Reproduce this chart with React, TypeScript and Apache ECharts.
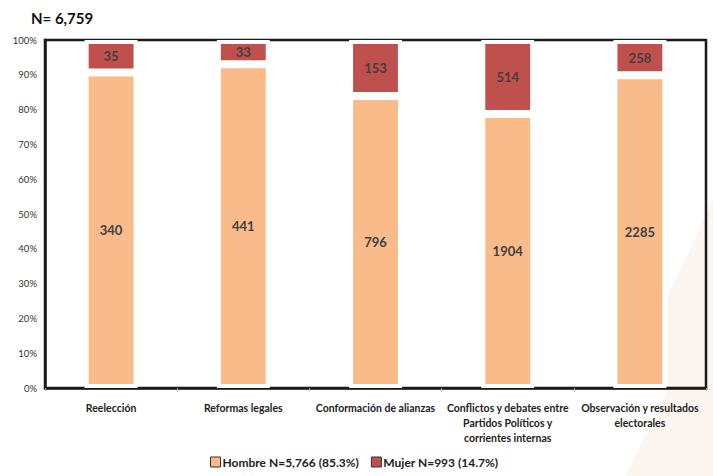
import React, { useEffect, useRef } from "react";
import * as echarts from "echarts";

const categories = [
  "Reelección",
  "Reformas legales",
  "Conformación de alianzas",
  "Conflictos y debates entre\nPartidos Políticos y\ncorrientes internas",
  "Observación y resultados\nelectorales",
];
const hombre = [340, 441, 796, 1904, 2285];
const mujer = [35, 33, 153, 514, 258];
const seriesNames = ["Hombre N=5,766 (85.3%)", "Mujer N=993 (14.7%)"];
const titleText = "N= 6,759";

const FONT = "Lato, 'Open Sans', sans-serif";

export default function App() {
  const ref = useRef<HTMLDivElement>(null);
  useEffect(() => {
    if (!ref.current) return;
    const chart = echarts.init(ref.current, null, { renderer: "svg" });
    const totals = hombre.map((h, i) => h + mujer[i]);
    const hPct = hombre.map((h, i) => (h / totals[i]) * 100);
    const mPct = mujer.map((m, i) => (m / totals[i]) * 100);
    const labelStyle = {
      show: true,
      position: "inside" as const,
      color: "#404040",
      fontFamily: FONT,
      fontWeight: "bold" as const,
      fontSize: 13,
    };
    chart.setOption({
      animation: false,
      backgroundColor: "#ffffff",
      textStyle: { fontFamily: FONT },
      graphic: [
        {
          type: "polygon",
          z: -10,
          silent: true,
          shape: {
            points: [
              [713, 200],
              [668, 296],
              [668, 390],
              [625, 476],
              [713, 476],
            ],
          },
          style: { fill: "rgba(238, 200, 170, 0.18)" },
        },
      ],
      title: {
        text: titleText,
        left: 26,
        top: 5,
        textStyle: { fontFamily: FONT, fontWeight: "bold", fontSize: 15, color: "#111" },
      },
      legend: {
        left: 205,
        bottom: 3,
        itemWidth: 10,
        itemHeight: 10,
        itemGap: 12,
        icon: "rect",
        textStyle: { fontFamily: FONT, fontWeight: "bold", fontSize: 12, color: "#222", padding: [0, 0, 0, -3] },
        data: [
          { name: seriesNames[0], itemStyle: { borderColor: "#333", borderWidth: 1 } },
          { name: seriesNames[1], itemStyle: { borderColor: "#333", borderWidth: 1 } },
        ],
      },
      grid: {
        left: 45,
        right: 7,
        top: 40,
        bottom: 88,
        show: true,
        borderColor: "#1a1a1a",
        borderWidth: 2.5,
        backgroundColor: "transparent",
      },
      xAxis: {
        type: "category",
        data: categories,
        axisLine: { show: true, lineStyle: { color: "#1a1a1a", width: 2.5 } },
        axisTick: { show: true, length: 3, lineStyle: { color: "#aaa" } },
        axisLabel: {
          interval: 0,
          margin: 12,
          color: "#222",
          fontFamily: FONT,
          fontWeight: "bold",
          fontSize: 10.5,
          lineHeight: 15,
        },
      },
      yAxis: {
        type: "value",
        min: 0,
        max: 100,
        interval: 10,
        splitLine: { show: false },
        axisLine: { show: true, lineStyle: { color: "#1a1a1a", width: 2.5 } },
        axisTick: { show: false },
        axisLabel: {
          formatter: "{value}%",
          color: "#333",
          fontFamily: FONT,
          fontSize: 9.5,
          margin: 8,
        },
      },
      series: [
        {
          name: seriesNames[0],
          type: "bar",
          stack: "total",
          barWidth: "40%",
          data: hPct,
          itemStyle: { color: "#FABB8A", borderColor: "#ffffff", borderWidth: 4 },
          label: { ...labelStyle, formatter: (p: any) => String(hombre[p.dataIndex]) },
        },
        {
          name: seriesNames[1],
          type: "bar",
          stack: "total",
          barWidth: "40%",
          data: mPct,
          itemStyle: { color: "#C0504D", borderColor: "#ffffff", borderWidth: 4 },
          label: { ...labelStyle, formatter: (p: any) => String(mujer[p.dataIndex]) },
        },
      ],
    });
    return () => chart.dispose();
  }, []);
  return <div ref={ref} style={{ width: 713, height: 476, position: "absolute", left: 0, top: 0 }} />;
}
